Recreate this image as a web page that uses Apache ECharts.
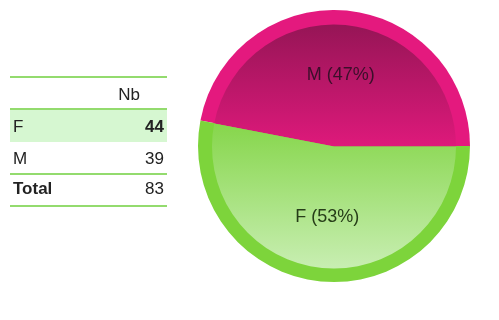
<!DOCTYPE html>
<html>
<head>
<meta charset="utf-8">
<script src="https://cdn.jsdelivr.net/npm/echarts@6/dist/echarts.min.js"></script>
<style>
  html, body { margin: 0; padding: 0; background: #fff; }
  #chart { width: 499px; height: 320px; }
</style>
</head>
<body>
<div id="chart"></div>
<script>
// Counts per category
const categories = ['M', 'F'];
const counts = [39, 44];
const tableRows = ['F', 'M'];
const tableValues = [44, 39];
const totalLabel = 'Total';
const headerLabel = 'Nb';

const total = tableValues.reduce((a, b) => a + b, 0);

const ringColors = { M: '#e4197e', F: '#7dd43b' };
const innerGrad = {
  M: ['#961556', '#de197b'],
  F: ['#86d64b', '#c8eeb2']
};
const labelColors = { M: '#3b0f2a', F: '#263d18' };

const cx = 334, cy = 146;
// Start M at the angle so that it ends at 3 o'clock
const startAngle = counts[0] / (counts[0] + counts[1]) * 360;

const ringData = categories.map((c, i) => ({
  name: c, value: counts[i], itemStyle: { color: ringColors[c] }
}));
const innerData = categories.map((c, i) => ({
  name: c, value: counts[i],
  itemStyle: {
    color: {
      type: 'linear', x: 0, y: 0, x2: 0, y2: 1,
      colorStops: [
        { offset: 0, color: innerGrad[c][0] },
        { offset: 1, color: innerGrad[c][1] }
      ]
    }
  }
}));
const labelData = categories.map((c, i) => ({
  name: c, value: counts[i],
  itemStyle: { color: 'rgba(0,0,0,0)' },
  label: { color: labelColors[c] }
}));

// Summary table drawn as graphic elements
const font = '17px "Liberation Sans", Arial, sans-serif';
const boldFont = 'bold 17px "Liberation Sans", Arial, sans-serif';
const lineColor = '#93db6e';
const tx0 = 10, tx1 = 167;
const graphics = [];
function hline(y) {
  graphics.push({ type: 'line', shape: { x1: tx0, y1: y, x2: tx1, y2: y },
    style: { stroke: lineColor, lineWidth: 2 } });
}
function text(x, y, s, bold, align) {
  graphics.push({ type: 'text', x: x, y: y,
    style: { text: String(s), font: bold ? boldFont : font, fill: '#222',
      align: align || 'left', verticalAlign: 'middle' } });
}
graphics.push({ type: 'rect', shape: { x: tx0, y: 110, width: tx1 - tx0, height: 32 },
  style: { fill: '#d6f7d1' } });
hline(77);
text(140, 95, headerLabel, false, 'right');
hline(109);
const rowY = [127, 159];
tableRows.forEach((r, i) => {
  text(13, rowY[i], r, false);
  text(164, rowY[i], tableValues[i], i === 0, 'right');
});
hline(174);
text(13, 189, totalLabel, true);
text(164, 189, total, false, 'right');
hline(206);

const pieBase = {
  type: 'pie',
  startAngle: startAngle,
  clockwise: true,
  silent: true,
  labelLine: { show: false },
  itemStyle: { borderWidth: 0 }
};

const chart = echarts.init(document.getElementById('chart'), null, { renderer: 'canvas' });
chart.setOption({
  animation: false,
  graphic: graphics,
  series: [
    Object.assign({}, pieBase, {
      center: [cx, cy],
      radius: [0, 136],
      data: ringData,
      label: { show: false },
      z: 1
    }),
    Object.assign({}, pieBase, {
      center: [cx, cy + 0.5],
      radius: [0, 122],
      data: innerData,
      label: { show: false },
      z: 2
    }),
    Object.assign({}, pieBase, {
      center: [cx, cy],
      radius: [0, 136],
      percentPrecision: 0,
      data: labelData,
      label: {
        show: true,
        position: 'inside',
        formatter: '{b} ({d}%)',
        fontFamily: '"Liberation Sans", Arial, sans-serif',
        fontSize: 18
      },
      z: 3
    })
  ]
});
</script>
</body>
</html>
